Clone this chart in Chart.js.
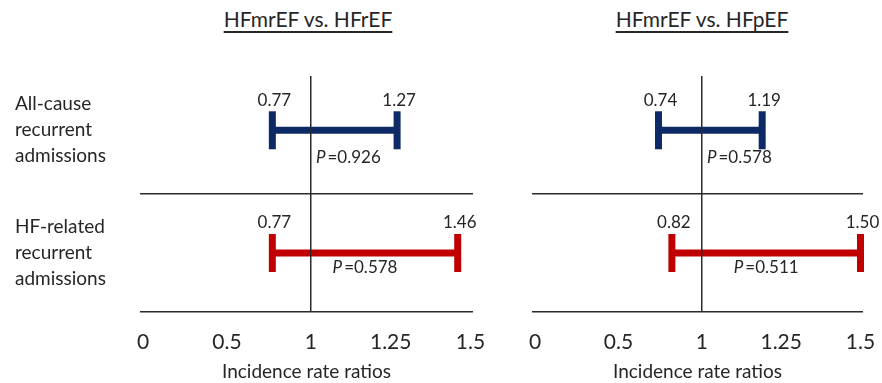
<!DOCTYPE html>
<html>
<head>
<meta charset="utf-8">
<script src="https://cdn.jsdelivr.net/npm/chart.js@4/dist/chart.umd.min.js"></script>
<style>
  body { margin: 0; background: #fff; width: 882px; height: 383px; position: relative; overflow: hidden; font-family: Lato, sans-serif; }
  .panel { position: absolute; top: 0; height: 383px; }
  .title { position: absolute; top: 7px; font-size: 21px; line-height: 24px; color: #262626; white-space: nowrap;
           transform: translateX(-50%); text-decoration: underline; text-decoration-thickness: 1.5px; text-underline-offset: 4px; }
</style>
</head>
<body>
<div class="title" style="left:308px">HFmrEF vs. HFrEF</div>
<div class="title" style="left:702px">HFmrEF vs. HFpEF</div>
<div class="panel" style="left:0"><canvas id="left" width="503" height="383"></canvas></div>
<div class="panel" style="left:392px"><canvas id="right" width="501" height="383"></canvas></div>
<script>
// data
const outcomes = [['All-cause', 'recurrent', 'admissions'], ['HF-related', 'recurrent', 'admissions']];
const tickValues = [0, 0.5, 1, 1.25, 1.5];
const rEFLower = [0.77, 0.77];
const rEFUpper = [1.27, 1.46];
const rEFP = ['0.926', '0.578'];
const pEFLower = [0.74, 0.82];
const pEFUpper = [1.19, 1.50];
const pEFP = ['0.578', '0.511'];

// layout / style
const colors = ['#0d2a66', '#c00000'];
const LINE = '#2b2b2b';
const TEXT = '#262626';
const ROW_POS = [0.46, 1.5];   // row centres on the 0..2 y axis
const P_DROP = [27, 15];       // px below the bar for the P label
const STRETCH = 1.9;           // the axis above 1 is drawn wider than below

Chart.defaults.font.family = 'Lato, "DejaVu Sans", sans-serif';
Chart.defaults.color = TEXT;

const warp = v => v <= 1 ? v : 1 + (v - 1) * STRETCH;
const unwarp = u => u <= 1 ? u : 1 + (u - 1) / STRETCH;

class RatioScale extends Chart.LinearScale {
    getPixelForValue(v) { return super.getPixelForValue(warp(v)); }
    getValueForPixel(p) { return unwarp(super.getValueForPixel(p)); }
    buildTicks() { return tickValues.map(v => ({ value: v })); }
}
RatioScale.id = 'ratio';
RatioScale.defaults = { ticks: { callback: v => String(v) } };
Chart.register(RatioScale);

// value labels above the caps and P values under the bars
const ciLabels = {
    id: 'ciLabels',
    afterDatasetsDraw(chart, args, opts) {
        const { ctx, scales: { x, y } } = chart;
        const one = x.getPixelForValue(1);
        ctx.save();
        ctx.fillStyle = TEXT;
        opts.lower.forEach((lo, i) => {
            const hi = opts.upper[i];
            const yy = y.getPixelForValue(ROW_POS[i]);
            const x1 = x.getPixelForValue(lo);
            const x2 = x.getPixelForValue(hi);
            ctx.font = '17px Lato';
            ctx.textAlign = 'center';
            ctx.textBaseline = 'middle';
            ctx.fillText(lo.toFixed(2), x1 + 2, yy - 30);
            ctx.fillText(hi.toFixed(2), x2 + 2, yy - 30);

            const rest = '=' + opts.p[i];
            ctx.font = 'italic 17px Lato';
            const wP = ctx.measureText('P').width + 2;
            ctx.font = '17px Lato';
            const wR = ctx.measureText(rest).width;
            let start = (x1 + x2) / 2 - (wP + wR) / 2;
            if (start < one + 5) start = one + 5;
            const py = yy + P_DROP[i];
            ctx.textAlign = 'left';
            ctx.font = 'italic 17px Lato';
            ctx.fillText('P', start, py);
            ctx.font = '17px Lato';
            ctx.fillText(rest, start + wP, py);
        });
        ctx.restore();
    }
};

function makePanel(id, lower, upper, pvals, rowLabels) {
    const datasets = [];
    lower.forEach((lo, i) => {
        datasets.push({
            data: [{ x: lo, y: ROW_POS[i] }, { x: upper[i], y: ROW_POS[i] }],
            showLine: true,
            borderColor: colors[i],
            borderWidth: 7,
            pointRadius: 0,
            clip: false
        });
        datasets.push({
            data: [{ x: lo, y: ROW_POS[i] }, { x: upper[i], y: ROW_POS[i] }],
            showLine: false,
            pointStyle: 'line',
            rotation: 90,
            pointRadius: 19,
            pointBorderWidth: 7,
            pointBorderColor: colors[i],
            borderColor: colors[i],
            clip: false
        });
    });

    return new Chart(document.getElementById(id), {
        type: 'scatter',
        data: { datasets: datasets },
        plugins: [ciLabels],
        options: {
            responsive: false,
            animation: false,
            events: [],
            layout: { padding: { left: 15, top: 76, right: 30, bottom: 0 } },
            plugins: {
                legend: { display: false },
                tooltip: { enabled: false },
                ciLabels: { lower: lower, upper: upper, p: pvals }
            },
            scales: {
                x: {
                    type: 'ratio',
                    min: -0.018,
                    max: 1.965,
                    afterFit: s => { s.height = 71; s.paddingLeft = 0; s.paddingRight = 0; },
                    border: { display: false },
                    grid: {
                        z: 1,
                        drawTicks: false,
                        lineWidth: 1.5,
                        color: c => (c.tick && c.tick.value === 1) ? LINE : 'rgba(0,0,0,0)'
                    },
                    ticks: { autoSkip: false, maxRotation: 0, padding: 18, font: { size: 21 }, callback: v => String(v) },
                    title: { display: true, text: 'Incidence rate ratios', font: { size: 19 }, padding: 0 }
                },
                y: {
                    type: 'linear',
                    reverse: true,
                    min: 0,
                    max: 2,
                    afterBuildTicks: s => { s.ticks = [ROW_POS[0], 1, ROW_POS[1], 2].map(v => ({ value: v })); },
                    afterFit: s => { s.width = 125; },
                    border: { display: false },
                    grid: {
                        drawTicks: false,
                        lineWidth: 1.5,
                        color: c => (c.tick && (c.tick.value === 1 || c.tick.value === 2)) ? LINE : 'rgba(0,0,0,0)'
                    },
                    ticks: {
                        display: rowLabels,
                        autoSkip: false,
                        crossAlign: 'far',
                        padding: 0,
                        font: { size: 19, lineHeight: 26 / 19 },
                        callback: v => {
                            const i = ROW_POS.indexOf(v);
                            return i >= 0 ? outcomes[i] : '';
                        }
                    }
                }
            }
        }
    });
}

makePanel('left', rEFLower, rEFUpper, rEFP, true);
makePanel('right', pEFLower, pEFUpper, pEFP, false);
</script>
</body>
</html>
